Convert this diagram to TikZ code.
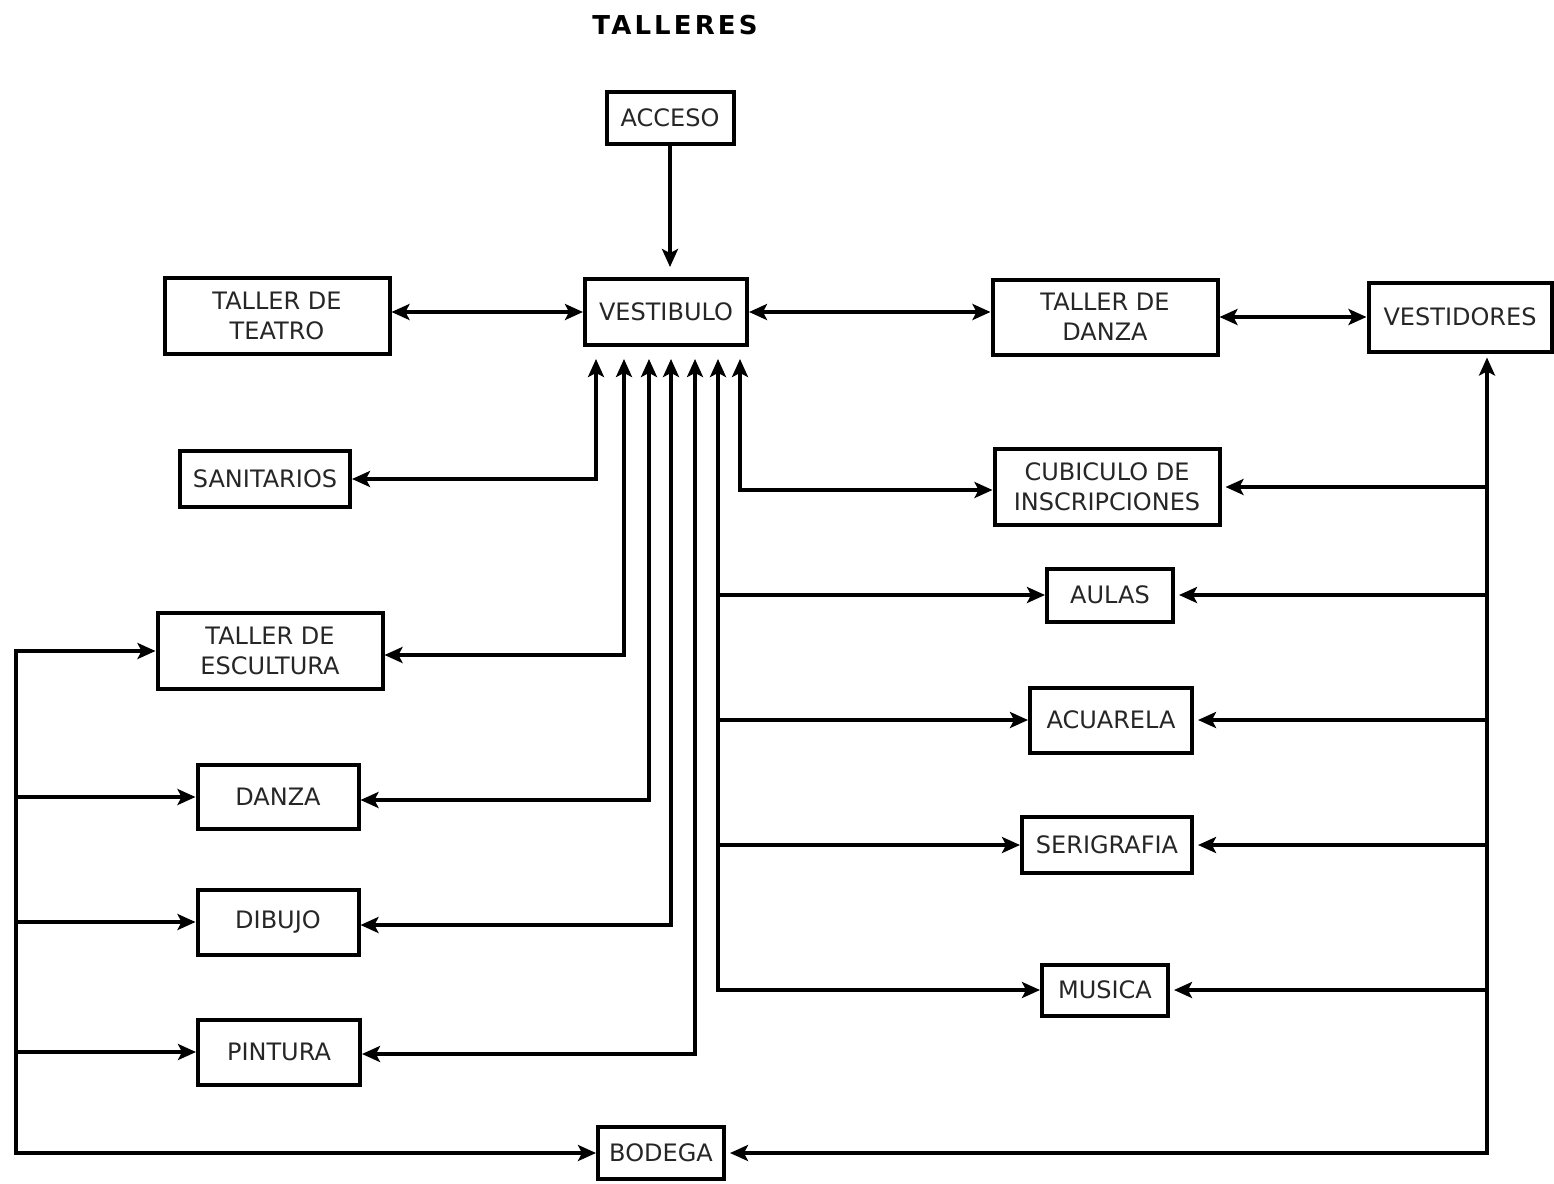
\documentclass[tikz,border=0pt]{standalone}
\usepackage{fontspec}
\setmainfont{DejaVu Sans}
\usetikzlibrary{arrows.meta}
\tikzset{
  room/.style = {draw, line width=2pt, align=center, inner sep=2pt,
    font=\fontsize{12}{15}\selectfont, text=black!85},
  link/.style = {line width=1.6pt, >={Stealth[length=9pt,width=8pt,inset=2pt]}}
}
\begin{document}
\begin{tikzpicture}[x=0.5pt, y=-0.5pt]
  \useasboundingbox (0,0) rectangle (1554,1184);
  \node (titulo) at (675,25) {\fontsize{13}{15}\selectfont\bfseries\addfontfeature{LetterSpace=12}TALLERES};
  % centro
  \node[room, minimum width=63.5pt, minimum height=26pt] (acceso) at (670,118) {ACCESO};
  \node[room, minimum width=81pt, minimum height=33pt] (vest) at (666,312) {VESTIBULO};
  \node[room, minimum width=112.5pt, minimum height=38pt] (teatro) at (277,316) {TALLER DE\\TEATRO};
  \node[room, minimum width=112.5pt, minimum height=37.5pt] (tdanza) at (1105,317) {TALLER DE\\DANZA};
  \node[room, minimum width=91.5pt, minimum height=34.5pt] (vestid) at (1460,317) {VESTIDORES};
  % izquierda
  \node[room, minimum width=85pt, minimum height=28pt] (sanit) at (265,479) {SANITARIOS};
  \node[room, minimum width=112.5pt, minimum height=38pt] (escult) at (270,651) {TALLER DE\\ESCULTURA};
  \node[room, minimum width=80.5pt, minimum height=32pt] (danza) at (278,797) {DANZA};
  \node[room, minimum width=80.5pt, minimum height=32.5pt] (dibujo) at (278,922) {DIBUJO};
  \node[room, minimum width=81pt, minimum height=32.5pt] (pintura) at (279,1052) {PINTURA};
  \node[room, minimum width=63pt, minimum height=26pt] (bodega) at (661,1153) {BODEGA};
  % derecha
  \node[room, minimum width=112.5pt, minimum height=38pt] (cubic) at (1107,487) {CUBICULO DE\\INSCRIPCIONES};
  \node[room, minimum width=63pt, minimum height=26.5pt] (aulas) at (1110,595) {AULAS};
  \node[room, minimum width=81pt, minimum height=32.5pt] (acuarela) at (1111,720) {ACUARELA};
  \node[room, minimum width=85pt, minimum height=28pt] (serig) at (1107,845) {SERIGRAFIA};
  \node[room, minimum width=63pt, minimum height=25.5pt] (musica) at (1105,990) {MUSICA};
  % buses
  \coordinate (lbus) at (16,0);
  \coordinate (rbus) at (1487,0);
  \coordinate (tapA) at (596,0);
  \coordinate (tapB) at (624,0);
  \coordinate (tapC) at (649,0);
  \coordinate (tapD) at (671,0);
  \coordinate (tapE) at (695,0);
  \coordinate (tapF) at (718,0);
  \coordinate (tapG) at (740,0);

  \draw[link,->, shorten >=5pt] (acceso.south) -- (acceso.south |- vest.north);
  \draw[link,<->] (vest.west -| teatro.east) -- (vest.west);
  \draw[link,<->] (vest.east) -- (vest.east -| tdanza.west);
  \draw[link,<->] (tdanza) -- (vestid);

  \draw[link,<->, shorten <=6pt] (vest.south -| tapA) |- (sanit);
  \draw[link,<->, shorten <=6pt] (vest.south -| tapB) |- (escult.east |- 0,655);
  \draw[link,<->, shorten <=6pt] (vest.south -| tapC) |- (danza.east |- 0,800);
  \draw[link,<->, shorten <=6pt] (vest.south -| tapD) |- (dibujo.east |- 0,925);
  \draw[link,<->, shorten <=6pt] (vest.south -| tapE) |- (pintura.east |- 0,1054);
  \draw[link,<->, shorten <=6pt] (vest.south -| tapG) |- (cubic.west |- 0,490);
  \draw[link,<->, shorten <=6pt] (vest.south -| tapF) |- (musica);
  \draw[link,->] (tapF |- aulas) -- (aulas);
  \draw[link,->] (tapF |- acuarela) -- (acuarela);
  \draw[link,->] (tapF |- serig) -- (serig);

  \draw[link,<->] (escult.west) -| (lbus |- bodega) -- (bodega);
  \draw[link,->] (lbus |- danza) -- (danza);
  \draw[link,->] (lbus |- dibujo) -- (dibujo);
  \draw[link,->] (lbus |- pintura) -- (pintura);

  \draw[link,<->, shorten <=2pt, shorten >=2pt] (vestid.south -| rbus) |- (bodega);
  \draw[link,->, shorten >=2pt] (rbus |- cubic) -- (cubic);
  \draw[link,->, shorten >=2pt] (rbus |- aulas) -- (aulas);
  \draw[link,->, shorten >=2pt] (rbus |- acuarela) -- (acuarela);
  \draw[link,->, shorten >=2pt] (rbus |- serig) -- (serig);
  \draw[link,->, shorten >=2pt] (rbus |- musica) -- (musica);
\end{tikzpicture}
\end{document}
